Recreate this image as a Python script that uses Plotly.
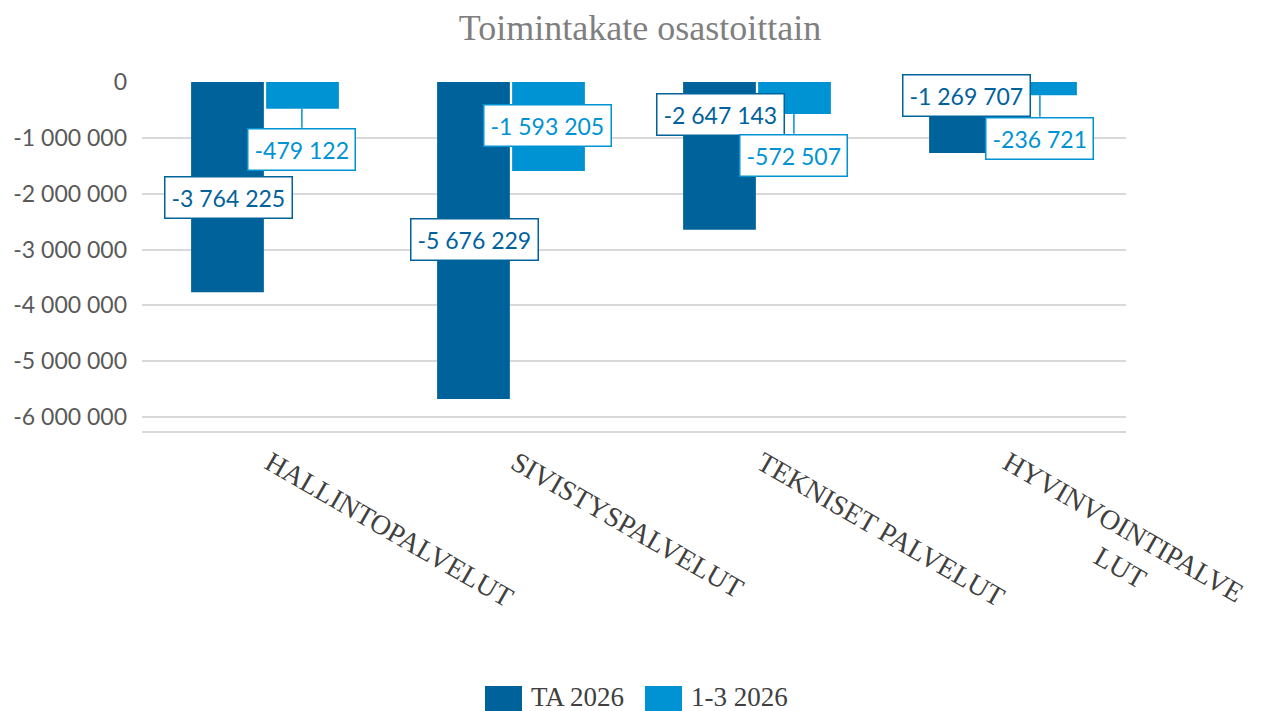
import plotly.graph_objects as go

# ---------------- data ----------------
categories = ["HALLINTOPALVELUT", "SIVISTYSPALVELUT", "TEKNISET PALVELUT", "HYVINVOINTIPALVELUT"]
category_tick_labels = ["HALLINTOPALVELUT", "SIVISTYSPALVELUT", "TEKNISET PALVELUT",
                        "HYVINVOINTIPALVE<br>" + "\u00a0" * 18 + "LUT"]
series_names = ["TA 2026", "1-3 2026"]
ta_2026 = [-3764225, -5676229, -2647143, -1269707]
q1_2026 = [-479122, -1593205, -572507, -236721]
y_tick_values = [0, -1000000, -2000000, -3000000, -4000000, -5000000, -6000000]
y_tick_labels = [f"{v:,}".replace(",", " ") for v in y_tick_values]

# ---------------- styling / label placement ----------------
dark = "#00629B"
light = "#0093D3"
serif = "Liberation Serif"
sans = "Lato"
Y_MIN = -6.25e6
# top edge of each data-label box (axis units), as placed in the original
label_top_dark = [-1.68e6, -2.435e6, -0.192e6, 0.149e6]
label_top_light = [-0.82e6, -0.389e6, -0.928e6, -0.623e6]
leader_light = [True, False, True, True]

OFF = 8  # page body margin
W, H = 1263 - OFF, 711 - OFF
ML, MT = 142 - OFF, 82 - OFF
MR = W - (1126 - OFF)
MB = H - (431 - OFF)
PW, PH = W - ML - MR, H - MT - MB
PX_PER_UNIT = PH / (0 - Y_MIN)


def fmt(v):
    return f"{v:,}".replace(",", " ")


def px_x(px):  # page pixel -> paper x
    return (px - OFF - ML) / PW


def px_y(py):  # page pixel -> paper y
    return (H - MB - (py - OFF)) / PH


fig = go.Figure()
fig.add_trace(go.Bar(x=list(range(len(categories))), y=ta_2026, name=series_names[0],
                     marker=dict(color=dark, line=dict(width=0))))
fig.add_trace(go.Bar(x=list(range(len(categories))), y=q1_2026, name=series_names[1],
                     marker=dict(color=light, line=dict(width=0))))

annotations = []
shapes = []
for i in range(len(categories)):
    for vals, tops, col, off in ((ta_2026, label_top_dark, dark, -0.15),
                                 (q1_2026, label_top_light, light, 0.15)):
        top = tops[i]
        y_anchor_val = min(top, -0.1e6)
        yshift = (top - y_anchor_val) * PX_PER_UNIT
        annotations.append(dict(
            x=i + off, y=y_anchor_val, yshift=yshift, xref="x", yref="y", text=fmt(vals[i]),
            showarrow=False, xanchor="center", yanchor="top",
            font=dict(family=sans, size=23, color=col),
            bgcolor="white", bordercolor=col, borderwidth=1.5, borderpad=6))
    if leader_light[i]:
        shapes.append(dict(type="line", xref="x", yref="y",
                           x0=i + 0.15, x1=i + 0.15, y0=q1_2026[i], y1=label_top_light[i],
                           line=dict(color=light, width=1.5), layer="below"))

# legend drawn manually (large square swatches as in original)
legend_items = [(series_names[0], dark, 485), (series_names[1], light, 645)]
for name, col, lx in legend_items:
    shapes.append(dict(type="rect", xref="paper", yref="paper",
                       x0=px_x(lx), x1=px_x(lx + 37), y0=px_y(686), y1=px_y(723),
                       fillcolor=col, line=dict(width=0)))
    annotations.append(dict(x=px_x(lx + 44), y=px_y(697), xref="paper", yref="paper",
                            text=name, showarrow=False, xanchor="left", yanchor="middle",
                            font=dict(family=serif, size=27, color="#404040")))

fig.update_layout(
    width=W, height=H,
    margin=dict(l=ML, r=MR, t=MT, b=MB, autoexpand=False),
    paper_bgcolor="white", plot_bgcolor="white",
    title=dict(text="Toimintakate osastoittain", x=(640 - OFF) / W, xanchor="center",
               y=1 - (27 - OFF) / H, yanchor="middle", yref="container", xref="container",
               font=dict(family=serif, size=36, color="#7F7F7F")),
    barmode="group", bargap=0.39, bargroupgap=0.03,
    showlegend=False,
    annotations=annotations, shapes=shapes,
    xaxis=dict(tickmode="array", tickvals=list(range(len(categories))),
               ticktext=category_tick_labels, tickangle=30, automargin=False,
               ticklabelshift=5, ticklabelstandoff=3,
               range=[-0.5, len(categories) - 0.5],
               showline=True, linecolor="#D9D9D9", linewidth=1.5,
               showgrid=False, zeroline=False, ticks="",
               tickfont=dict(family=serif, size=28, color="#404040")),
    yaxis=dict(range=[Y_MIN, 0], tickmode="array", tickvals=y_tick_values, automargin=False,
               ticktext=y_tick_labels, showgrid=True, gridcolor="#D9D9D9", gridwidth=1.5,
               zeroline=False, ticks="", ticklabelstandoff=14,
               tickfont=dict(family=sans, size=23, color="#595959")),
)

fig.write_html("out.html")
